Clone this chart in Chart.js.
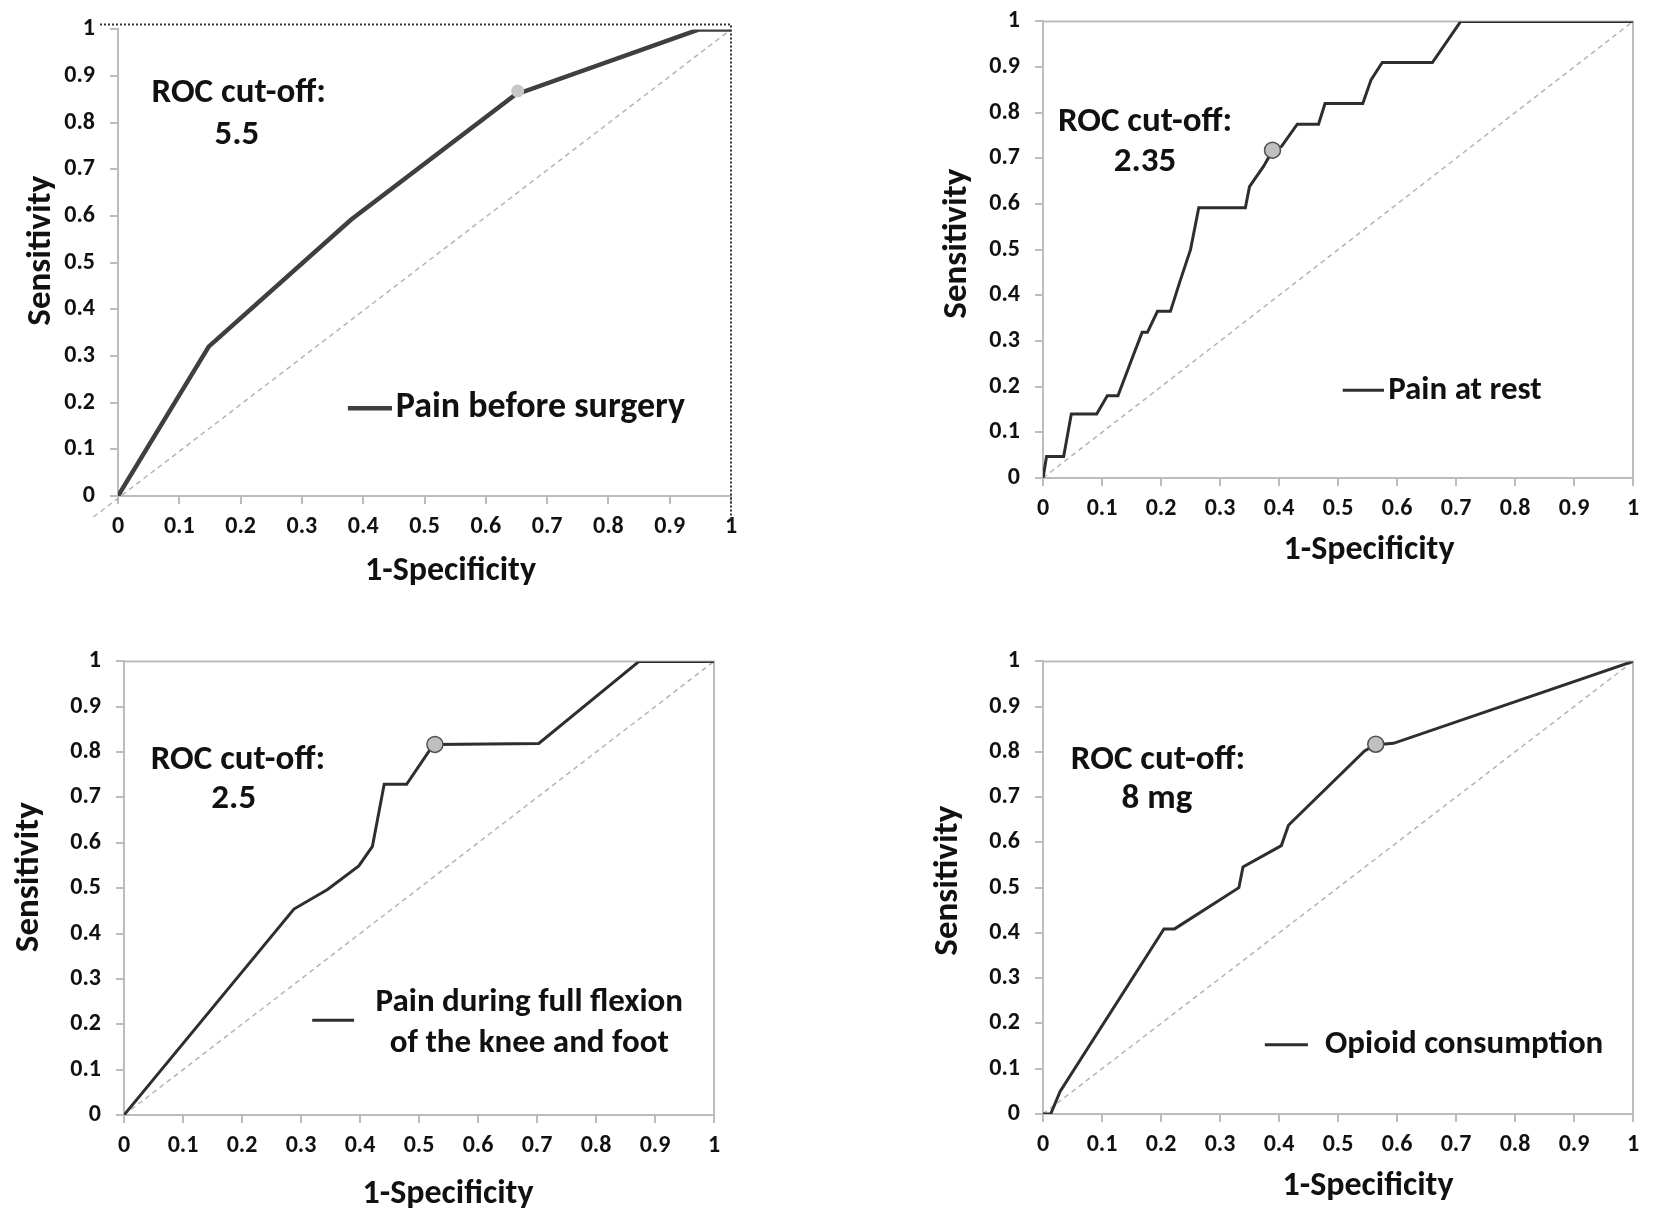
<!DOCTYPE html>
<html><head><meta charset="utf-8">
<script src="https://cdn.jsdelivr.net/npm/chart.js@4.4.1/dist/chart.umd.min.js"></script>
<style>
html,body{margin:0;padding:0;background:#fff;width:1654px;height:1225px;overflow:hidden;}
body{position:relative;}
.pane{position:absolute;}
</style></head><body>
<div class="pane" id="w1"></div>
<div class="pane" id="w2"></div>
<div class="pane" id="w3"></div>
<div class="pane" id="w4"></div>
<script>
// ---------- data ----------
const tickLabels = ['0','0.1','0.2','0.3','0.4','0.5','0.6','0.7','0.8','0.9','1'];
const xTitle = '1-Specificity';
const yTitle = 'Sensitivity';
const rocLabel = 'ROC cut-off:';

const beforeX = [0, 0.148, 0.38, 0.648, 0.948, 1];
const beforeY = [0, 0.32, 0.592, 0.86, 1, 1];
const beforeCut = [0.652, 0.868];

const restX = [0, 0.006, 0.035, 0.048, 0.091, 0.109, 0.127, 0.154, 0.168, 0.177, 0.194, 0.216, 0.232, 0.25, 0.264, 0.343, 0.35, 0.374, 0.389, 0.404, 0.431, 0.467, 0.478, 0.542, 0.556, 0.575, 0.66, 0.708, 1];
const restY = [0, 0.047, 0.047, 0.14, 0.14, 0.18, 0.18, 0.272, 0.319, 0.319, 0.365, 0.365, 0.43, 0.5, 0.592, 0.592, 0.638, 0.683, 0.717, 0.726, 0.775, 0.775, 0.82, 0.82, 0.872, 0.91, 0.91, 1, 1];
const restCut = [0.389, 0.718];

const flexX = [0, 0.288, 0.345, 0.398, 0.421, 0.441, 0.479, 0.517, 0.528, 0.703, 0.873, 1];
const flexY = [0, 0.454, 0.497, 0.549, 0.592, 0.729, 0.729, 0.802, 0.817, 0.819, 1, 1];
const flexCut = [0.527, 0.817];

const opioidX = [0, 0.013, 0.029, 0.205, 0.223, 0.332, 0.339, 0.404, 0.416, 0.545, 0.564, 0.594, 1];
const opioidY = [0, 0, 0.05, 0.409, 0.409, 0.5, 0.546, 0.593, 0.638, 0.802, 0.816, 0.819, 1];
const opioidCut = [0.564, 0.817];

const diagonalX = [0, 1];
const diagonalY = [0, 1];
const diagonalExtX = [-0.04, 1];
const diagonalExtY = [-0.045, 1];

const cutoffValues = ['5.5', '2.35', '2.5', '8 mg'];
const legendLabels = [['Pain before surgery'], ['Pain at rest'], ['Pain during full flexion', 'of the knee and foot'], ['Opioid consumption']];

// ---------- layout / style ----------
const FONT = 'Carlito, Lato, "Open Sans", sans-serif';
const Y_W = 120, PAD_T = 24, PAD_R = 24, X_H = 110;
const toPts = (xs, ys) => xs.map((x, i) => ({x: x, y: ys[i]}));

const panels = [
  {wrap:'w1', area:[118, 29, 731, 496], xs:beforeX, ys:beforeY, cut:beforeCut,
   diag:[diagonalExtX, diagonalExtY], lw:4.5, lineColor:'#3f3f3f',
   marker:{r:6.5, fill:'#c8c8c8', border:'#c8c8c8', bw:0},
   roc:[0.197, 0.864], val:[0.194, 0.773], legLine:[0.375, 0.447, 0.188], legText:{x:0.453, ys:[0.188], align:'left', size:36},
   xT:[26, 75], yT:[-77, -12], dotted:true},
  {wrap:'w2', area:[1043, 21, 1633, 478], xs:restX, ys:restY, cut:restCut,
   diag:[diagonalX, diagonalY], lw:3, lineColor:'#2e2e2e',
   marker:{r:8, fill:'#c0c0c0', border:'#505050', bw:1.5},
   roc:[0.173, 0.78], val:[0.173, 0.691], legLine:[0.508, 0.578, 0.192], legText:{x:0.585, ys:[0.192], align:'left', size:33},
   xT:[31, 72], yT:[-86, -6], dotted:false},
  {wrap:'w3', area:[124, 661, 714, 1115], xs:flexX, ys:flexY, cut:flexCut,
   diag:[diagonalX, diagonalY], lw:3, lineColor:'#2e2e2e',
   marker:{r:8, fill:'#c0c0c0', border:'#505050', bw:1.5},
   roc:[0.193, 0.781], val:[0.186, 0.696], legLine:[0.319, 0.39, 0.209], legText:{x:0.687, ys:[0.247, 0.158], align:'center', size:33},
   xT:[29, 79], yT:[-95, -11], dotted:false},
  {wrap:'w4', area:[1043, 661, 1633, 1114], xs:opioidX, ys:opioidY, cut:opioidCut,
   diag:[diagonalX, diagonalY], lw:3, lineColor:'#2e2e2e',
   marker:{r:8, fill:'#c0c0c0', border:'#505050', bw:1.5},
   roc:[0.195, 0.781], val:[0.193, 0.695], legLine:[0.376, 0.449, 0.153], legText:{x:0.478, ys:[0.153], align:'left', size:33},
   xT:[30, 72], yT:[-95, -7], dotted:false}
];

const decor = {
  id: 'decor',
  beforeDatasetsDraw(chart, args, o) {
    const ctx = chart.ctx, a = chart.chartArea;
    ctx.save();
    if (o.dotted) {
      ctx.strokeStyle = '#333';
      ctx.lineWidth = 2;
      ctx.setLineDash([2, 2]);
      ctx.beginPath();
      ctx.moveTo(a.left - 18, a.top - 5);
      ctx.lineTo(a.right, a.top - 5);
      ctx.lineTo(a.right, a.bottom + 26);
      ctx.stroke();
    } else {
      ctx.strokeStyle = '#bcbcbc';
      ctx.lineWidth = 2;
      ctx.beginPath();
      ctx.moveTo(a.left, a.top);
      ctx.lineTo(a.right, a.top);
      ctx.lineTo(a.right, a.bottom);
      ctx.stroke();
    }
    ctx.restore();
  },
  afterDatasetsDraw(chart, args, o) {
    const ctx = chart.ctx, a = chart.chartArea;
    const sx = chart.scales.x, sy = chart.scales.y;
    const px = v => sx.getPixelForValue(v), py = v => sy.getPixelForValue(v);
    ctx.save();
    ctx.fillStyle = '#111';
    ctx.textBaseline = 'middle';
    // annotation
    ctx.font = 'bold 35px ' + FONT;
    ctx.textAlign = 'center';
    ctx.fillText(rocLabel, px(o.roc[0]), py(o.roc[1]));
    ctx.fillText(o.value, px(o.val[0]), py(o.val[1]));
    // legend
    ctx.strokeStyle = o.lineColor;
    ctx.lineWidth = o.lw;
    ctx.beginPath();
    ctx.moveTo(px(o.legLine[0]), py(o.legLine[2]));
    ctx.lineTo(px(o.legLine[1]), py(o.legLine[2]));
    ctx.stroke();
    ctx.font = 'bold ' + o.legText.size + 'px ' + FONT;
    ctx.textAlign = o.legText.align;
    o.labels.forEach((t, i) => ctx.fillText(t, px(o.legText.x), py(o.legText.ys[i])));
    // axis titles
    ctx.font = 'bold 34px ' + FONT;
    ctx.textAlign = 'center';
    ctx.fillText(xTitle, (a.left + a.right) / 2 + o.xT[0], a.bottom + o.xT[1]);
    ctx.font = 'bold 35px ' + FONT;
    ctx.translate(a.left + o.yT[0], (a.top + a.bottom) / 2 + o.yT[1]);
    ctx.rotate(-Math.PI / 2);
    ctx.fillText(yTitle, 0, 0);
    ctx.restore();
  }
};

function axis(pos, fit) {
  return {
    type: 'linear', position: pos, min: 0, max: 1,
    grid: {display: true, drawOnChartArea: false, drawTicks: true, tickLength: 8, color: '#bcbcbc', lineWidth: 2},
    border: {display: true, color: '#bcbcbc', width: 2},
    ticks: {stepSize: 0.1, autoSkip: false, maxRotation: 0, padding: pos === 'left' ? 15 : 9, color: '#111',
            font: {family: FONT, size: 24, weight: 'bold'},
            callback: (v, i) => tickLabels[i]},
    afterFit: fit
  };
}

function build(p, k, left, top, W, H) {
  const wrap = document.getElementById(p.wrap);
  wrap.innerHTML = '';
  wrap.style.left = left + 'px';
  wrap.style.top = top + 'px';
  wrap.style.width = W + 'px';
  wrap.style.height = H + 'px';
  const cv = document.createElement('canvas');
  cv.width = W; cv.height = H;
  cv.style.width = W + 'px'; cv.style.height = H + 'px';
  wrap.appendChild(cv);
  return new Chart(cv, {
    type: 'line',
    data: {
      datasets: [
        {data: [{x: p.cut[0], y: p.cut[1]}], showLine: false, pointRadius: p.marker.r,
         pointBackgroundColor: p.marker.fill, pointBorderColor: p.marker.border, pointBorderWidth: p.marker.bw},
        {data: toPts(p.xs, p.ys), borderColor: p.lineColor, borderWidth: p.lw, pointRadius: 0, tension: 0, fill: false},
        {data: toPts(p.diag[0], p.diag[1]), borderColor: '#b4b4b4', borderWidth: 1.5, borderDash: [5, 4],
         pointRadius: 0, fill: false, clip: false}
      ]
    },
    options: {
      responsive: false, animation: false, devicePixelRatio: 1,
      layout: {padding: {left: 0, top: PAD_T, right: PAD_R, bottom: 0}},
      scales: {
        x: axis('bottom', s => { s.height = X_H; }),
        y: axis('left', s => { s.width = Y_W; })
      },
      plugins: {
        legend: {display: false}, tooltip: {enabled: false},
        decor: Object.assign({}, p, {value: cutoffValues[k], labels: legendLabels[k]})
      }
    },
    plugins: [decor]
  });
}

panels.forEach((p, k) => {
  const [l, t, r, b] = p.area;
  let W = r - l + Y_W + PAD_R, H = b - t + PAD_T + X_H;
  let chart = build(p, k, l - Y_W, t - PAD_T, W, H);
  // calibrate so the plot area lands exactly on its target box
  for (let it = 0; it < 2; it++) {
    const a = chart.chartArea;
    W += (r - l) - (a.right - a.left);
    H += (b - t) - (a.bottom - a.top);
    chart.destroy();
    chart = build(p, k, l - a.left, t - a.top, W, H);
  }
  const a = chart.chartArea;
  const wrap = document.getElementById(p.wrap);
  wrap.style.left = (l - a.left) + 'px';
  wrap.style.top = (t - a.top) + 'px';
});
</script>
</body></html>
